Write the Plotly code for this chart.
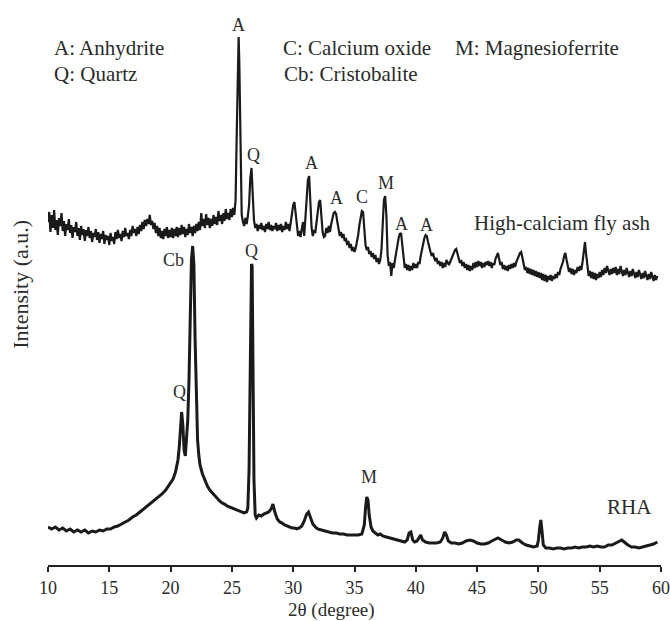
import plotly.graph_objects as go

# ---------------- data (2-theta in degrees, intensity in arbitrary units) ----------------
flyash_points = [
    (10.0, 343), (10.1, 353), (10.2, 333), (10.3, 350), (10.4, 337), (10.5, 355), (10.6, 335), (10.7, 345), (10.8, 330), (10.9, 347),
    (11.0, 339), (11.1, 352), (11.2, 334), (11.3, 344), (11.4, 329), (11.5, 341), (11.6, 335), (11.7, 346), (11.8, 332), (11.9, 340),
    (12.0, 327), (12.1, 338), (12.2, 333), (12.3, 343), (12.4, 329), (12.5, 337), (12.6, 325), (12.7, 339), (12.8, 330), (12.9, 336),
    (13.0, 324), (13.1, 335), (13.2, 329), (13.3, 338), (13.4, 327), (13.5, 334), (13.6, 323), (13.7, 332), (13.8, 328), (13.9, 336),
    (14.0, 325), (14.1, 333), (14.2, 322), (14.3, 331), (14.4, 326), (14.5, 334), (14.6, 321), (14.7, 330), (14.8, 325), (14.9, 329),
    (15.0, 320), (15.1, 332), (15.2, 324), (15.3, 328), (15.4, 321), (15.5, 333), (15.6, 326), (15.7, 335), (15.8, 327), (15.9, 331),
    (16.0, 324), (16.1, 334), (16.2, 328), (16.3, 337), (16.4, 329), (16.5, 332), (16.6, 326), (16.7, 335), (16.8, 329), (16.9, 339),
    (17.0, 332), (17.1, 336), (17.2, 329), (17.3, 338), (17.4, 331), (17.5, 340), (17.6, 334), (17.7, 343), (17.8, 336), (17.9, 345),
    (18.0, 339), (18.1, 346), (18.2, 341), (18.3, 350), (18.4, 340), (18.5, 344), (18.6, 336), (18.7, 342), (18.8, 332), (18.9, 339),
    (19.0, 329), (19.1, 337), (19.2, 327), (19.3, 334), (19.4, 326), (19.5, 336), (19.6, 329), (19.7, 338), (19.8, 327), (19.9, 335),
    (20.0, 328), (20.1, 337), (20.2, 327), (20.3, 336), (20.4, 329), (20.5, 338), (20.6, 328), (20.7, 337), (20.8, 330), (20.9, 340),
    (21.0, 331), (21.1, 338), (21.2, 328), (21.3, 336), (21.4, 330), (21.5, 341), (21.6, 332), (21.7, 338), (21.8, 329), (21.9, 339),
    (22.0, 332), (22.1, 341), (22.2, 334), (22.3, 343), (22.4, 335), (22.5, 352), (22.6, 339), (22.7, 346), (22.8, 337), (22.9, 351),
    (23.0, 340), (23.1, 347), (23.2, 337), (23.3, 346), (23.4, 339), (23.5, 350), (23.6, 341), (23.7, 348), (23.8, 340), (23.9, 354),
    (24.0, 344), (24.1, 350), (24.2, 341), (24.3, 352), (24.4, 344), (24.5, 356), (24.6, 346), (24.7, 352), (24.8, 345), (24.9, 356),
    (25.0, 348), (25.1, 357), (25.2, 350), (25.3, 365), (25.4, 435), (25.5, 525), (25.55, 528), (25.6, 505), (25.7, 405), (25.8, 350),
    (25.9, 343), (26.0, 339), (26.1, 347), (26.2, 341), (26.3, 349), (26.4, 360), (26.5, 387), (26.6, 397), (26.7, 370), (26.8, 345),
    (26.9, 337), (27.0, 341), (27.1, 334), (27.2, 340), (27.3, 336), (27.4, 342), (27.5, 335), (27.6, 339), (27.7, 333), (27.8, 341),
    (27.9, 336), (28.0, 343), (28.1, 335), (28.2, 340), (28.3, 334), (28.4, 339), (28.5, 336), (28.6, 342), (28.7, 334), (28.8, 340),
    (28.9, 335), (29.0, 341), (29.1, 333), (29.2, 339), (29.3, 335), (29.4, 343), (29.5, 336), (29.6, 341), (29.7, 334), (29.8, 344),
    (29.9, 350), (30.0, 360), (30.1, 363), (30.2, 350), (30.3, 335), (30.4, 329), (30.5, 334), (30.6, 328), (30.7, 336), (30.8, 343),
    (30.9, 329), (31.0, 345), (31.1, 365), (31.2, 385), (31.3, 389), (31.4, 360), (31.5, 337), (31.6, 329), (31.7, 335), (31.8, 332),
    (31.9, 343), (32.0, 353), (32.1, 363), (32.2, 365), (32.3, 350), (32.4, 333), (32.5, 328), (32.6, 329), (32.7, 337), (32.8, 332),
    (32.9, 339), (33.0, 333), (33.1, 341), (33.2, 347), (33.3, 352), (33.4, 353), (33.5, 351), (33.6, 343), (33.7, 335), (33.8, 329),
    (33.9, 333), (34.0, 327), (34.1, 331), (34.2, 324), (34.3, 327), (34.4, 320), (34.5, 324), (34.6, 317), (34.7, 321), (34.8, 314),
    (34.9, 318), (35.0, 313), (35.1, 317), (35.2, 322), (35.3, 330), (35.4, 340), (35.5, 350), (35.6, 354), (35.7, 353), (35.8, 337),
    (35.9, 320), (36.0, 315), (36.1, 318), (36.2, 311), (36.3, 314), (36.4, 308), (36.5, 312), (36.6, 306), (36.7, 310), (36.8, 303),
    (36.9, 307), (37.0, 301), (37.1, 305), (37.2, 315), (37.3, 340), (37.4, 365), (37.5, 369), (37.6, 350), (37.7, 310), (37.8, 299),
    (37.9, 303), (38.0, 289), (38.1, 302), (38.2, 297), (38.3, 305), (38.4, 313), (38.5, 320), (38.6, 327), (38.7, 331), (38.8, 332),
    (38.9, 320), (39.0, 305), (39.1, 297), (39.2, 301), (39.3, 295), (39.4, 300), (39.5, 294), (39.6, 299), (39.7, 295), (39.8, 302),
    (39.9, 297), (40.0, 301), (40.1, 297), (40.2, 303), (40.3, 301), (40.4, 309), (40.5, 315), (40.6, 322), (40.7, 327), (40.8, 330),
    (40.9, 329), (41.0, 323), (41.1, 317), (41.2, 313), (41.3, 309), (41.4, 312), (41.5, 307), (41.6, 304), (41.7, 307), (41.8, 301),
    (41.9, 304), (42.0, 299), (42.1, 303), (42.2, 297), (42.3, 302), (42.4, 298), (42.5, 305), (42.6, 302), (42.7, 300), (42.8, 303),
    (42.9, 306), (43.0, 309), (43.1, 312), (43.2, 315), (43.3, 316), (43.4, 311), (43.5, 307), (43.6, 302), (43.7, 305), (43.8, 299),
    (43.9, 303), (44.0, 297), (44.1, 301), (44.2, 295), (44.3, 300), (44.4, 294), (44.5, 299), (44.6, 295), (44.7, 302), (44.8, 297),
    (44.9, 303), (45.0, 298), (45.1, 304), (45.2, 299), (45.3, 303), (45.4, 297), (45.5, 302), (45.6, 298), (45.7, 303), (45.8, 300),
    (45.9, 304), (46.0, 299), (46.1, 303), (46.2, 297), (46.3, 302), (46.4, 300), (46.5, 306), (46.6, 309), (46.7, 312), (46.8, 306),
    (46.9, 300), (47.0, 303), (47.1, 296), (47.2, 300), (47.3, 295), (47.4, 299), (47.5, 294), (47.6, 300), (47.7, 296), (47.8, 301),
    (47.9, 297), (48.0, 302), (48.1, 298), (48.2, 303), (48.3, 306), (48.4, 309), (48.5, 312), (48.6, 313), (48.7, 307), (48.8, 299),
    (48.9, 295), (49.0, 298), (49.1, 292), (49.2, 297), (49.3, 291), (49.4, 296), (49.5, 290), (49.6, 295), (49.7, 289), (49.8, 294),
    (49.9, 288), (50.0, 293), (50.1, 287), (50.2, 292), (50.3, 285), (50.4, 291), (50.5, 284), (50.6, 290), (50.7, 283), (50.8, 289),
    (50.9, 285), (51.0, 290), (51.1, 284), (51.2, 289), (51.3, 286), (51.4, 291), (51.5, 287), (51.6, 293), (51.7, 290), (51.8, 296),
    (51.9, 299), (52.0, 303), (52.1, 309), (52.2, 312), (52.3, 305), (52.4, 297), (52.5, 293), (52.6, 297), (52.7, 291), (52.8, 296),
    (52.9, 290), (53.0, 295), (53.1, 292), (53.2, 298), (53.3, 294), (53.4, 299), (53.5, 295), (53.6, 303), (53.7, 315), (53.8, 323),
    (53.9, 310), (54.0, 295), (54.1, 289), (54.2, 294), (54.3, 287), (54.4, 293), (54.5, 286), (54.6, 292), (54.7, 285), (54.8, 291),
    (54.9, 287), (55.0, 293), (55.1, 288), (55.2, 295), (55.3, 290), (55.4, 297), (55.5, 292), (55.6, 299), (55.7, 294), (55.8, 290),
    (55.9, 296), (56.0, 291), (56.1, 297), (56.2, 292), (56.3, 298), (56.4, 290), (56.5, 296), (56.6, 291), (56.7, 299), (56.8, 293),
    (56.9, 289), (57.0, 295), (57.1, 290), (57.2, 297), (57.3, 292), (57.4, 288), (57.5, 294), (57.6, 289), (57.7, 296), (57.8, 291),
    (57.9, 287), (58.0, 293), (58.1, 288), (58.2, 295), (58.3, 290), (58.4, 286), (58.5, 292), (58.6, 287), (58.7, 294), (58.8, 289),
    (58.9, 285), (59.0, 291), (59.1, 286), (59.2, 293), (59.3, 288), (59.4, 284), (59.5, 290), (59.6, 285), (59.7, 289),
]

rha_points = [
    (10.0, 38), (10.3, 36), (10.6, 38), (10.9, 35), (11.2, 37), (11.5, 34), (11.8, 36), (12.1, 33), (12.4, 35), (12.7, 33),
    (13.0, 35), (13.3, 32), (13.6, 34), (13.9, 33), (14.2, 35), (14.5, 34), (14.8, 36), (15.1, 36), (15.4, 38), (15.7, 39),
    (16.0, 41), (16.3, 43), (16.6, 45), (16.9, 48), (17.2, 50), (17.5, 53), (17.8, 56), (18.1, 59), (18.4, 62), (18.7, 65),
    (19.0, 68), (19.3, 71), (19.6, 75), (19.9, 80), (20.2, 86), (20.4, 93), (20.6, 105), (20.7, 117), (20.8, 135), (20.9, 153),
    (21.0, 140), (21.1, 115), (21.2, 109), (21.3, 125), (21.4, 145), (21.5, 185), (21.6, 245), (21.7, 305), (21.8, 319), (21.9, 300),
    (22.0, 225), (22.1, 155), (22.2, 125), (22.3, 110), (22.4, 100), (22.6, 91), (22.8, 84), (23.0, 79), (23.2, 75), (23.4, 72),
    (23.6, 69), (23.8, 66), (24.0, 64), (24.2, 62), (24.4, 61), (24.6, 59), (24.8, 58), (25.0, 57), (25.2, 56), (25.4, 55),
    (25.6, 54), (25.8, 53), (26.0, 52), (26.2, 53), (26.3, 57), (26.4, 95), (26.5, 235), (26.6, 301), (26.65, 299), (26.7, 215),
    (26.8, 85), (26.9, 50), (27.0, 47), (27.2, 50), (27.4, 49), (27.6, 51), (27.8, 52), (28.0, 53), (28.2, 56), (28.35, 61),
    (28.5, 53), (28.7, 46), (28.9, 43), (29.1, 42), (29.3, 40), (29.5, 39), (29.7, 38), (29.9, 37), (30.1, 37), (30.3, 36),
    (30.5, 37), (30.7, 39), (30.9, 44), (31.1, 51), (31.25, 53), (31.4, 47), (31.6, 41), (31.8, 38), (32.0, 36), (32.3, 35),
    (32.6, 34), (32.9, 33), (33.2, 32), (33.5, 32), (33.8, 31), (34.1, 31), (34.4, 30), (34.7, 30), (35.0, 30), (35.3, 30),
    (35.6, 31), (35.8, 40), (35.9, 57), (36.0, 68), (36.1, 65), (36.2, 50), (36.35, 38), (36.5, 34), (36.7, 32), (36.9, 30),
    (37.1, 31), (37.3, 29), (37.6, 28), (37.9, 27), (38.2, 26), (38.5, 25), (38.8, 24), (39.1, 23), (39.3, 25), (39.45, 32),
    (39.6, 33), (39.75, 25), (39.9, 23), (40.1, 24), (40.3, 28), (40.4, 30), (40.55, 25), (40.8, 23), (41.1, 22), (41.4, 22),
    (41.7, 22), (42.0, 23), (42.2, 27), (42.35, 33), (42.5, 30), (42.65, 24), (42.9, 22), (43.2, 22), (43.5, 21), (43.8, 22),
    (44.1, 24), (44.4, 25), (44.7, 24), (45.0, 22), (45.3, 21), (45.6, 21), (45.9, 22), (46.2, 24), (46.5, 26), (46.7, 27),
    (47.0, 25), (47.3, 23), (47.6, 22), (47.9, 23), (48.2, 25), (48.4, 25), (48.7, 22), (49.0, 20), (49.3, 19), (49.6, 18),
    (49.9, 19), (50.0, 25), (50.1, 37), (50.2, 45), (50.3, 33), (50.4, 20), (50.6, 17), (50.9, 17), (51.2, 16), (51.5, 17),
    (51.8, 17), (52.1, 16), (52.4, 17), (52.7, 17), (53.0, 18), (53.3, 17), (53.6, 18), (53.9, 18), (54.2, 19), (54.5, 18),
    (54.8, 19), (55.1, 18), (55.4, 18), (55.7, 20), (56.0, 20), (56.3, 22), (56.6, 24), (56.8, 25), (57.0, 23), (57.3, 20),
    (57.6, 18), (57.9, 18), (58.2, 17), (58.5, 18), (58.8, 19), (59.1, 20), (59.4, 21), (59.7, 23),
]

x_ticks = [10, 15, 20, 25, 30, 35, 40, 45, 50, 55, 60]

# phase legend text lines: (text, 2theta of left edge, intensity level)
phase_legend = [
    ("A: Anhydrite", 10.33, 517),
    ("Q: Quartz", 10.33, 491),
    ("C: Calcium oxide", 29.0, 517),
    ("Cb: Cristobalite", 29.07, 491),
    ("M: Magnesioferrite", 43.0, 517),
]

# peak labels: (label, 2theta, intensity)
peak_labels = [
    ("A", 25.57, 540),
    ("Q", 26.8, 410),
    ("A", 31.5, 402),
    ("A", 33.55, 367),
    ("C", 35.6, 368),
    ("M", 37.6, 382),
    ("A", 38.8, 341),
    ("A", 40.9, 340),
    ("Cb", 20.2, 305),
    ("Q", 26.6, 314),
    ("Q", 20.75, 173),
    ("M", 36.15, 88),
]

# series names: (text, 2theta of centre, intensity)
series_names = [
    ("High-calciam fly ash", 51.97, 342),
    ("RHA", 57.43, 58),
]

# ---------------- figure ----------------
FONT = "Liberation Serif"
TXT = "#2b2b2b"

fig = go.Figure()
fig.add_trace(go.Scatter(
    x=[p[0] for p in flyash_points], y=[p[1] for p in flyash_points],
    mode="lines", line=dict(color="#1a1a1a", width=2.2), showlegend=False,
))
fig.add_trace(go.Scatter(
    x=[p[0] for p in rha_points], y=[p[1] for p in rha_points],
    mode="lines", line=dict(color="#1a1a1a", width=3), showlegend=False,
))

annotations = []
for text, x, y in phase_legend:
    annotations.append(dict(text=text, x=x, y=y, xref="x", yref="y", xanchor="left",
                            yanchor="middle", showarrow=False,
                            font=dict(family=FONT, size=21, color=TXT)))
for text, x, y in peak_labels:
    annotations.append(dict(text=text, x=x, y=y, xref="x", yref="y", xanchor="center",
                            yanchor="middle", showarrow=False,
                            font=dict(family=FONT, size=18, color=TXT)))
for text, x, y in series_names:
    annotations.append(dict(text=text, x=x, y=y, xref="x", yref="y", xanchor="center",
                            yanchor="middle", showarrow=False,
                            font=dict(family=FONT, size=21, color=TXT)))
annotations.append(dict(text="Intensity (a.u.)", x=-0.044, y=0.496, xref="paper", yref="paper",
                        textangle=-90, showarrow=False, xanchor="center", yanchor="middle",
                        font=dict(family=FONT, size=22, color=TXT)))
annotations.append(dict(text="2θ (degree)", x=0.462, y=-0.079, xref="paper", yref="paper",
                        showarrow=False, xanchor="center", yanchor="middle",
                        font=dict(family=FONT, size=19, color=TXT)))

fig.update_layout(
    width=670, height=621,
    margin=dict(l=48, r=9, t=0, b=56),
    paper_bgcolor="white", plot_bgcolor="white",
    annotations=annotations,
    xaxis=dict(range=[10, 60], tickmode="array", tickvals=x_ticks, ticktext=[str(v) for v in x_ticks],
               ticks="outside", ticklen=5, tickwidth=1.5, tickcolor="#222",
               showline=True, linecolor="#222", linewidth=1.5, showgrid=False, zeroline=False,
               tickfont=dict(family=FONT, size=18, color=TXT), ticklabelstandoff=1,
               ticklabeloverflow="allow"),
    yaxis=dict(range=[0, 565], visible=False, showgrid=False, zeroline=False),
)

fig.write_html("out.html")
